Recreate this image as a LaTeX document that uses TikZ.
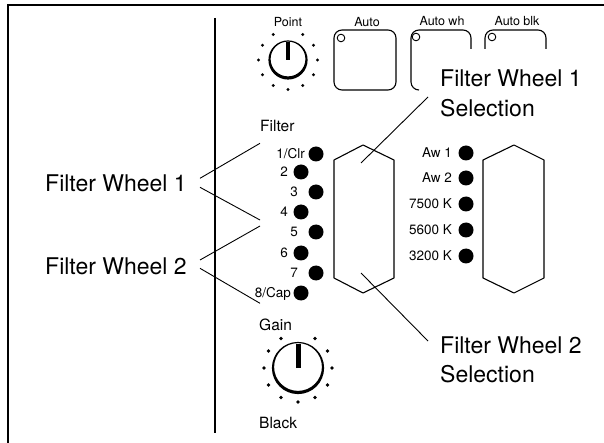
\documentclass[tikz,border=0pt]{standalone}
\usepackage{fontspec}
\setmainfont{TeX Gyre Heros}
\tikzset{
  sm/.style={font=\fontsize{12.5}{15}\selectfont, inner sep=0pt, anchor=base},
  dl/.style={font=\fontsize{13.5}{16}\selectfont, inner sep=0pt, anchor=base east},
  md/.style={font=\fontsize{15.5}{18}\selectfont, inner sep=0pt, anchor=base west},
  big/.style={font=\fontsize{23}{28}\selectfont, inner sep=0pt, anchor=base west},
  led/.style={fill=black},
  conn/.style={line width=0.9pt},
  outline/.style={line width=1.1pt, line join=round},
  btn/.style={line width=1.1pt, rounded corners=8pt},
  pics/knob/.style 2 args={code={
    \fill[even odd rule] (0,0) circle[radius={(#1+1.1)*1pt}] (0,-1) circle[radius={(#1-1.1)*1pt}];
    \draw[line width={#1/5*1pt}] (0,0) -- (0,{-#1+0.5});
    \foreach \a in {30,60,...,330} \fill ({#2*sin(\a)},{-#2*cos(\a)}) circle[radius={#2/18*1pt}];
  }}
}
\begin{document}
\begin{tikzpicture}[x=1pt,y=-1pt]
\useasboundingbox (0,0) rectangle (604,443);
% frame
\draw[line width=2.6pt] (8,443) -- (8,5) -- (604,5);
\draw[line width=1.8pt] (215,18) -- (215,433);

% Point knob and buttons
\node[sm] (point) at (288,27) {Point};
\pic (pknob) at (288,60) {knob={18.5}{29.5}};
\node[sm] (auto) at (367,27) {Auto};
\node[sm] (autowh) at (442,26) {Auto wh};
\node[sm] (autoblk) at (517,26) {Auto blk};
\draw[btn] (334,30) rectangle (396,90);
\draw[btn] (471,49) -- (471,30) -- (411,30) -- (411,90) -- (419,90);
\draw[btn] (546,49) -- (546,30) -- (485,30) -- (485,49);
\draw[line width=0.9pt] (341,38) circle[radius=3.8pt] (416,37) circle[radius=3.8pt] (492,37) circle[radius=3.8pt];

% Filter LEDs
\node[md] (filter) at (260,131.5) {Filter};
\foreach \n/\x/\y/\lx/\t in {1/316/154/305/1\slash Clr, 2/301/172/288/2, 3/316/192/298/3, 4/301/212/288/4, 5/316/232/298/5, 6/301/253/288/6, 7/316/273/298/7, 8/301/293/291/8\slash Cap}{
  \fill[led] (\x,\y) circle[radius=7.5pt];
  \node[dl] (f\n) at (\lx,\y+4.6) {\t};
}
% right LEDs
\foreach \n/\y/\t in {1/153/Aw 1, 2/178/Aw 2, 3/204/7500 K, 4/230/5600 K, 5/256/3200 K}{
  \fill[led] (466,\y) circle[radius=7.5pt];
  \node[dl] (a\n) at (452,\y+4.6) {\t};
}

% hexagons
\draw[outline] (363,145) -- (394,160) -- (394,278) -- (363,293) -- (334,278) -- (334,160) -- cycle;
\draw[outline] (514,145) -- (544,160) -- (544,278) -- (514,293) -- (483,278) -- (483,160) -- cycle;

% Gain knob
\node[md] (gain) at (259,330) {Gain};
\pic (gknob) at (298,368) {knob={25}{34}};
\node[md] (black) at (259,428) {Black};

% big labels
\node[big] (fw1) at (45,192) {Filter Wheel 1};
\node[big] (fw2) at (45,274) {Filter Wheel 2};
\node[big] (s1a) at (440,87) {Filter Wheel 1};
\node[big] (s1b) at (440,117) {Selection};
\node[big] (s2a) at (440,353) {Filter Wheel 2};
\node[big] (s2b) at (440,382) {Selection};

% connectors
\coordinate (fw1u) at (200,178.3);
\coordinate (fw1d) at (200,187.3);
\coordinate (fw2u) at (200,260);
\coordinate (fw2d) at (200,268.3);
\coordinate (t1) at (260,143.3);
\coordinate (t4) at (260,220);
\coordinate (t5) at (260,226);
\coordinate (t8) at (260,303.3);
\draw[conn] (fw1u) -- (t1);
\draw[conn] (fw1d) -- (t4);
\draw[conn] (fw2u) -- (t5);
\draw[conn] (fw2d) -- (t8);
\coordinate (s1s) at (428,97);
\coordinate (s1e) at (361,163);
\coordinate (s2s) at (428,341);
\coordinate (s2e) at (361,273);
\draw[conn] (s1s) -- (s1e);
\draw[conn] (s2s) -- (s2e);
\end{tikzpicture}
\end{document}
